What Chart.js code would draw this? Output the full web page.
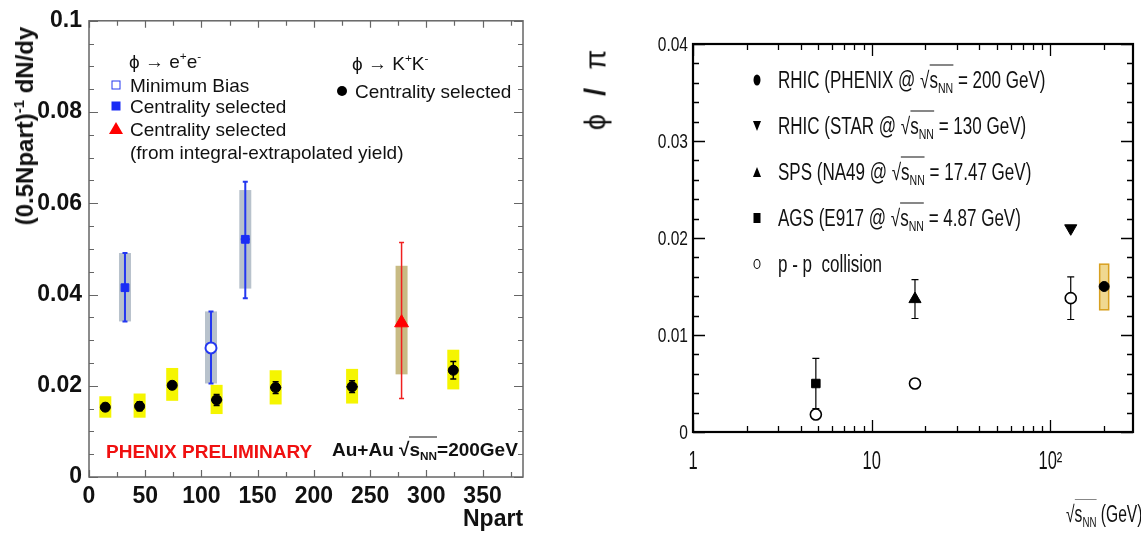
<!DOCTYPE html>
<html>
<head>
<meta charset="utf-8">
<script src="https://cdn.jsdelivr.net/npm/chart.js@4.4.1/dist/chart.umd.min.js"></script>
<style>
  body { margin: 0; width: 1141px; height: 534px; background: #fff; position: relative; overflow: hidden;
         font-family: 'Liberation Sans', Arial, sans-serif; color: #111; }
  canvas { position: absolute; top: 0; }
  .t { position: absolute; white-space: nowrap; line-height: 1; transform: translateY(-50%); }
  .nar { transform-origin: 0 50%; transform: translateY(-50%) scaleX(0.74); }
  sup { font-size: 0.62em; vertical-align: 0.6em; line-height: 0; }
  sub { font-size: 0.62em; vertical-align: -0.4em; line-height: 0; }
  .ov { border-top: 1.6px solid #111; padding-top: 1px; }
  .mk { position: absolute; transform: translate(-50%, -50%); }
</style>
</head>
<body>
<canvas id="yieldChart" width="540" height="534" style="left:0"></canvas>
<canvas id="ratioChart" width="561" height="534" style="left:580px"></canvas>

<!-- left panel: titles and legend -->
<div class="t" style="left:25px;top:126px;font-weight:bold;font-size:24px;transform:translate(-50%,-50%) rotate(-90deg)">(0.5Npart)<sup>-1</sup> dN/dy</div>
<div class="t" style="left:463px;top:518px;font-weight:bold;font-size:23px">Npart</div>

<div class="t" style="left:129px;top:61px;font-size:19px">ϕ → e<sup>+</sup>e<sup>-</sup></div>
<div class="mk" style="left:116px;top:85px;width:7px;height:7px;border:1.5px solid #2438f0"></div>
<div class="t" style="left:130px;top:85px;font-size:19px">Minimum Bias</div>
<div class="mk" style="left:116px;top:106px;width:9px;height:9px;background:#1a2cf5"></div>
<div class="t" style="left:130px;top:106px;font-size:19px">Centrality selected</div>
<div class="mk" style="left:116px;top:128px;width:0;height:0;border-left:7px solid transparent;border-right:7px solid transparent;border-bottom:12px solid #f00"></div>
<div class="t" style="left:130px;top:129px;font-size:19px">Centrality selected</div>
<div class="t" style="left:130px;top:152px;font-size:19px">(from integral-extrapolated yield)</div>

<div class="t" style="left:352px;top:63px;font-size:19px">ϕ → K<sup>+</sup>K<sup>-</sup></div>
<div class="mk" style="left:342px;top:91px;width:10px;height:10px;border-radius:50%;background:#000"></div>
<div class="t" style="left:355px;top:91px;font-size:19px">Centrality selected</div>

<div class="t" style="left:106px;top:451px;font-size:19px;font-weight:bold;color:#f01010">PHENIX PRELIMINARY</div>
<div class="t" style="left:332px;top:449px;font-size:19px;font-weight:bold">Au+Au √<span class="ov">s<sub>NN</sub></span>=200GeV</div>

<!-- right panel: titles and legend -->
<div class="t" style="left:596px;top:90px;font-size:29px;word-spacing:10px;transform:translate(-50%,-50%) rotate(-90deg)">ϕ <b>/</b> π</div>
<div class="t" style="left:1066px;top:514px;font-size:23px;transform-origin:0 50%;transform:translateY(-50%) scaleX(0.68)">√<span class="ov">s<sub>NN</sub></span> (GeV)</div>

<div class="mk" style="left:757px;top:80px;width:7px;height:11px;border-radius:50%;background:#000"></div>
<div class="t nar" style="left:778px;top:80px;font-size:23px">RHIC (PHENIX @ √<span class="ov">s<sub>NN</sub></span> = 200 GeV)</div>
<div class="mk" style="left:757px;top:126px;width:0;height:0;border-left:4px solid transparent;border-right:4px solid transparent;border-top:10px solid #000"></div>
<div class="t nar" style="left:778px;top:126px;font-size:23px">RHIC (STAR @ √<span class="ov">s<sub>NN</sub></span> = 130 GeV)</div>
<div class="mk" style="left:757px;top:172px;width:0;height:0;border-left:4px solid transparent;border-right:4px solid transparent;border-bottom:10px solid #000"></div>
<div class="t nar" style="left:778px;top:172px;font-size:23px">SPS (NA49 @ √<span class="ov">s<sub>NN</sub></span> = 17.47 GeV)</div>
<div class="mk" style="left:757px;top:218px;width:7px;height:10px;background:#000"></div>
<div class="t nar" style="left:778px;top:218px;font-size:23px">AGS (E917 @ √<span class="ov">s<sub>NN</sub></span> = 4.87 GeV)</div>
<div class="mk" style="left:757px;top:264px;width:5px;height:8px;border-radius:50%;border:1.5px solid #000"></div>
<div class="t nar" style="left:778px;top:264px;font-size:23px">p - p &nbsp;collision</div>

<script>
// ---- phi yield per participant pair vs Npart (Au+Au 200 GeV) ----
// phi -> K+K-, centrality selected
const kkNpart = [14.5, 45, 74, 113.5, 166, 234, 324];
const kkYield = [0.0153, 0.0155, 0.0201, 0.0169, 0.0196, 0.0198, 0.0234];
const kkStat  = [0.0008, 0.0010, 0.0008, 0.0012, 0.0013, 0.0013, 0.0019];
const kkSysLo = [0.0130, 0.0130, 0.0167, 0.0138, 0.0159, 0.0161, 0.0192];
const kkSysHi = [0.0177, 0.0183, 0.0239, 0.0202, 0.0234, 0.0237, 0.0279];
const kkNerr  = [0, 0, 0, 5, 5, 5, 0];

// phi -> e+e-, centrality selected
const eeNpart = [32, 139];
const eeYield = [0.0415, 0.0521];
const eeStatLo = [0.0341, 0.0392];
const eeStatHi = [0.0491, 0.0647];
const eeSysLo = [0.0341, 0.0413];
const eeSysHi = [0.0491, 0.0629];

// phi -> e+e-, minimum bias
const mbNpart = [108.5];
const mbYield = [0.0283];
const mbStatLo = [0.0205];
const mbStatHi = [0.0363];

// phi -> e+e-, centrality selected from integral-extrapolated yield
const exNpart = [278];
const exYield = [0.0338];
const exStatLo = [0.0172];
const exStatHi = [0.0514];
const exSysLo = [0.0225];
const exSysHi = [0.0463];

// ---- phi / pi vs sqrt(s_NN) ----
const phenixEnergy = [200];
const phenixRatio = [0.0150];
const phenixSysLo = [0.0126];
const phenixSysHi = [0.0173];

const starEnergy = [130];
const starRatio = [0.0210];

const na49Energy = [17.47];
const na49Ratio = [0.0137];
const na49Err = [0.0020];

const e917Energy = [4.87];
const e917Ratio = [0.0050];
const e917Err = [0.0026];

const ppEnergy = [4.87, 17.47, 130];
const ppRatio = [0.0018, 0.0050, 0.0138];
const ppErr = [0, 0, 0.0022];

// axis labels of the energy plot
const energyLabels = { 1: '1', 10: '10', 100: '10²' };
const ratioLabel = v => v === 0 ? '0' : v.toFixed(2);

const pts = (xs, ys) => xs.map((x, i) => ({ x: x, y: ys[i] }));

// systematic boxes first, then error bars; markers are drawn by Chart.js on top
const errorBarsPlugin = {
    id: 'errorBars',
    beforeDatasetsDraw: function(chart) {
        const ctx = chart.ctx, xs = chart.scales.x, ys = chart.scales.y;
        ctx.save();
        chart.data.datasets.forEach(ds => {
            if (!ds.sysLo) return;
            ds.data.forEach((p, i) => {
                const px = xs.getPixelForValue(p.x);
                const top = ys.getPixelForValue(ds.sysHi[i]);
                const bot = ys.getPixelForValue(ds.sysLo[i]);
                ctx.fillStyle = ds.sysColor;
                ctx.fillRect(px - ds.boxHalf, top, ds.boxHalf * 2, bot - top);
                if (ds.sysEdge) {
                    ctx.strokeStyle = ds.sysEdge;
                    ctx.lineWidth = 1.5;
                    ctx.strokeRect(px - ds.boxHalf, top, ds.boxHalf * 2, bot - top);
                }
            });
        });
        chart.data.datasets.forEach(ds => {
            if (!ds.errLo) return;
            ctx.strokeStyle = ds.barColor;
            ctx.lineWidth = ds.barWidth;
            ds.data.forEach((p, i) => {
                const px = xs.getPixelForValue(p.x), py = ys.getPixelForValue(p.y);
                const y1 = ys.getPixelForValue(ds.errHi[i]);
                const y2 = ys.getPixelForValue(ds.errLo[i]);
                ctx.beginPath();
                if (y2 - y1 > 0.5) {
                    ctx.moveTo(px, y1); ctx.lineTo(px, y2);
                    ctx.moveTo(px - ds.cap, y1); ctx.lineTo(px + ds.cap, y1);
                    ctx.moveTo(px - ds.cap, y2); ctx.lineTo(px + ds.cap, y2);
                }
                if (ds.xErr && ds.xErr[i]) {
                    ctx.moveTo(xs.getPixelForValue(p.x - ds.xErr[i]), py);
                    ctx.lineTo(xs.getPixelForValue(p.x + ds.xErr[i]), py);
                }
                ctx.stroke();
            });
        });
        ctx.restore();
    }
};

// frame with inward ticks on all four sides
function framePlugin(o) {
    return {
        id: 'frame',
        afterDraw: function(chart) {
            const ctx = chart.ctx, a = chart.chartArea;
            const xs = chart.scales.x, ys = chart.scales.y;
            ctx.save();
            ctx.strokeStyle = o.color;
            ctx.lineWidth = o.tickWidth;
            ctx.beginPath();
            o.xTicks.forEach(t => {
                const px = Math.round(xs.getPixelForValue(t.v)) + 0.5;
                ctx.moveTo(px, a.bottom); ctx.lineTo(px, a.bottom - t.len);
                ctx.moveTo(px, a.top); ctx.lineTo(px, a.top + t.len);
            });
            o.yTicks.forEach(t => {
                const py = Math.round(ys.getPixelForValue(t.v)) + 0.5;
                ctx.moveTo(a.left, py); ctx.lineTo(a.left + t.len, py);
                ctx.moveTo(a.right, py); ctx.lineTo(a.right - t.len, py);
            });
            ctx.stroke();
            ctx.lineWidth = o.lineWidth;
            ctx.strokeRect(a.left, a.top, a.right - a.left, a.bottom - a.top);
            ctx.restore();
        }
    };
}

// condensed tick labels for the energy plot, placed from the scales' own ticks
const narrowTickLabels = {
    id: 'narrowTickLabels',
    afterDraw: function(chart) {
        const ctx = chart.ctx, a = chart.chartArea;
        const xs = chart.scales.x, ys = chart.scales.y;
        ctx.save();
        ctx.fillStyle = '#111';
        ctx.textBaseline = 'middle';
        ctx.font = "21px 'Liberation Sans', Arial";
        ctx.textAlign = 'right';
        ys.ticks.forEach(t => {
            ctx.save();
            ctx.translate(a.left - 5, ys.getPixelForValue(t.value) + 1);
            ctx.scale(0.74, 1);
            ctx.fillText(ratioLabel(t.value), 0, 0);
            ctx.restore();
        });
        ctx.font = "25px 'Liberation Sans', Arial";
        ctx.textAlign = 'center';
        xs.ticks.forEach(t => {
            const label = energyLabels[t.value];
            if (!label) return;
            ctx.save();
            ctx.translate(xs.getPixelForValue(t.value), a.bottom + 30);
            ctx.scale(0.66, 1);
            ctx.fillText(label, 0, 0);
            ctx.restore();
        });
        ctx.restore();
    }
};

const baseOptions = {
    responsive: false,
    animation: false,
    events: [],
    plugins: { legend: { display: false }, tooltip: { enabled: false } }
};

// ---------- left chart ----------
const yieldXTicks = [];
for (let n = 0; n <= 375; n += 25) yieldXTicks.push({ v: n, len: n % 50 === 0 ? 7 : 5 });
const yieldYTicks = [];
for (let k = 0; k <= 20; k++) yieldYTicks.push({ v: k * 0.005, len: k % 4 === 0 ? 9 : 5 });

new Chart(document.getElementById('yieldChart'), {
    type: 'scatter',
    data: {
        datasets: [
            {
                data: pts(kkNpart, kkYield),
                pointStyle: 'circle', pointRadius: 5,
                backgroundColor: '#000', borderColor: '#000',
                errLo: kkYield.map((v, i) => v - kkStat[i]),
                errHi: kkYield.map((v, i) => v + kkStat[i]),
                sysLo: kkSysLo, sysHi: kkSysHi, xErr: kkNerr,
                sysColor: '#f5f500', boxHalf: 6,
                barColor: '#000', barWidth: 1.5, cap: 3
            },
            {
                data: pts(eeNpart, eeYield),
                pointStyle: 'rect', pointRadius: 5.5,
                backgroundColor: '#1a2cf5', borderColor: '#1a2cf5',
                errLo: eeStatLo, errHi: eeStatHi,
                sysLo: eeSysLo, sysHi: eeSysHi, xErr: [0, 4],
                sysColor: '#b8c2cc', boxHalf: 6,
                barColor: '#2438f0', barWidth: 2, cap: 2.5
            },
            {
                data: pts(mbNpart, mbYield),
                pointStyle: 'circle', pointRadius: 5.5, borderWidth: 2,
                backgroundColor: '#fff', borderColor: '#2438f0',
                errLo: mbStatLo, errHi: mbStatHi,
                sysLo: mbStatLo, sysHi: mbStatHi,
                sysColor: '#b8c2cc', boxHalf: 6,
                barColor: '#2438f0', barWidth: 2, cap: 2.5
            },
            {
                data: pts(exNpart, exYield),
                pointStyle: 'triangle', pointRadius: 8,
                backgroundColor: '#f00', borderColor: '#f00',
                errLo: exStatLo, errHi: exStatHi,
                sysLo: exSysLo, sysHi: exSysHi,
                sysColor: '#c8bb84', boxHalf: 6,
                barColor: '#f02020', barWidth: 1.5, cap: 2.5
            }
        ]
    },
    options: Object.assign({}, baseOptions, {
        layout: { padding: { top: 19, right: 17, left: 0, bottom: 0 } },
        scales: {
            x: {
                type: 'linear', min: 0, max: 386,
                grid: { display: false, drawTicks: false }, border: { display: false },
                ticks: { stepSize: 50, includeBounds: false, padding: 6, color: '#111',
                         font: { family: "'Liberation Sans', Arial", size: 23, weight: 'bold' } },
                afterFit: s => { s.height = 57; }
            },
            y: {
                type: 'linear', min: 0, max: 0.1,
                grid: { display: false, drawTicks: false }, border: { display: false },
                ticks: { stepSize: 0.02, padding: 7, color: '#111',
                         font: { family: "'Liberation Sans', Arial", size: 23, weight: 'bold' },
                         callback: v => v === 0 ? '0' : (v > 0.099 ? '0.1' : v.toFixed(2)) },
                afterFit: s => { s.width = 89; }
            }
        }
    }),
    plugins: [errorBarsPlugin, framePlugin({ color: '#666', lineWidth: 1.5, tickWidth: 1.2,
                                              xTicks: yieldXTicks, yTicks: yieldYTicks })]
});

// ---------- right chart ----------
const ratioXTicks = [];
[1, 10, 100].forEach(d => {
    for (let m = 1; m <= 9; m++) {
        if (d * m <= 290) ratioXTicks.push({ v: d * m, len: m === 1 ? 12 : 6 });
    }
});
const ratioYTicks = [];
for (let k = 0; k <= 20; k++) ratioYTicks.push({ v: k * 0.002, len: k % 5 === 0 ? 12 : 6 });

new Chart(document.getElementById('ratioChart'), {
    type: 'scatter',
    data: {
        datasets: [
            {
                data: pts(phenixEnergy, phenixRatio),
                pointStyle: 'circle', pointRadius: 5,
                backgroundColor: '#000', borderColor: '#000',
                sysLo: phenixSysLo, sysHi: phenixSysHi,
                sysColor: '#f0d890', sysEdge: '#d8a020', boxHalf: 4.5
            },
            {
                data: pts(starEnergy, starRatio),
                pointStyle: 'triangle', rotation: 180, pointRadius: 7,
                backgroundColor: '#000', borderColor: '#000'
            },
            {
                data: pts(na49Energy, na49Ratio),
                pointStyle: 'triangle', pointRadius: 7,
                backgroundColor: '#000', borderColor: '#000',
                errLo: na49Ratio.map((v, i) => v - na49Err[i]),
                errHi: na49Ratio.map((v, i) => v + na49Err[i]),
                barColor: '#000', barWidth: 1.2, cap: 3.5
            },
            {
                data: pts(e917Energy, e917Ratio),
                pointStyle: 'rect', pointRadius: 6,
                backgroundColor: '#000', borderColor: '#000',
                errLo: e917Ratio.map((v, i) => v - e917Err[i]),
                errHi: e917Ratio.map((v, i) => v + e917Err[i]),
                barColor: '#000', barWidth: 1.2, cap: 3.5
            },
            {
                data: pts(ppEnergy, ppRatio),
                pointStyle: 'circle', pointRadius: 5.5, borderWidth: 1.6,
                backgroundColor: '#fff', borderColor: '#000',
                errLo: ppRatio.map((v, i) => v - ppErr[i]),
                errHi: ppRatio.map((v, i) => v + ppErr[i]),
                barColor: '#000', barWidth: 1.2, cap: 3.5
            }
        ]
    },
    options: Object.assign({}, baseOptions, {
        layout: { padding: { top: 44, right: 4, left: 0, bottom: 0 } },
        scales: {
            x: {
                type: 'logarithmic', min: 1, max: 290,
                grid: { display: false, drawTicks: false }, border: { display: false },
                ticks: { display: false, autoSkip: false },
                afterFit: s => { s.height = 102; s.paddingLeft = 0; s.paddingRight = 0; }
            },
            y: {
                type: 'linear', min: 0, max: 0.04,
                grid: { display: false, drawTicks: false }, border: { display: false },
                ticks: { display: false, stepSize: 0.01 },
                afterFit: s => { s.width = 113; }
            }
        }
    }),
    plugins: [errorBarsPlugin, narrowTickLabels,
              framePlugin({ color: '#000', lineWidth: 2.2, tickWidth: 1.3,
                            xTicks: ratioXTicks, yTicks: ratioYTicks })]
});
</script>
</body>
</html>
